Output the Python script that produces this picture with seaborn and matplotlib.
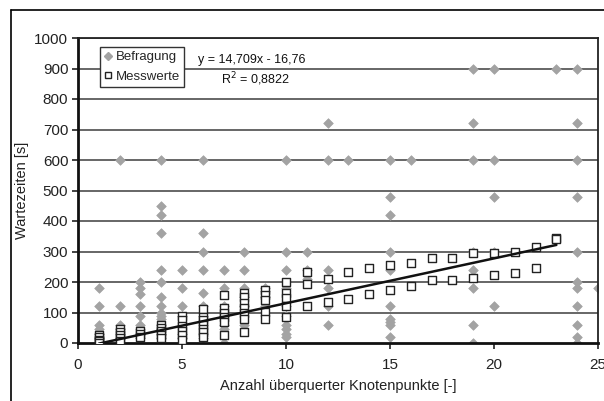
import numpy as np
import pandas as pd
import matplotlib
matplotlib.use("Agg")
import matplotlib.pyplot as plt
from matplotlib.lines import Line2D
import seaborn as sns

# ---- data ----
bef_x = ([1]*7 + [2]*7 + [3]*10 + [4]*16 + [5]*8 + [6]*10 + [7]*7 + [8]*6 + [9]*4 +
         [10]*10 + [11]*3 + [12]*6 + [13] + [15]*10 + [16] + [19]*8 + [20]*5 + [23] + [24]*11 + [25])
bef_y = ([180, 120, 60, 45, 30, 15, 0] +
         [600, 120, 60, 45, 30, 15, 0] +
         [200, 180, 160, 120, 90, 60, 45, 30, 15, 0] +
         [600, 450, 420, 360, 240, 200, 150, 120, 100, 90, 80, 60, 45, 30, 15, 0] +
         [240, 180, 120, 90, 60, 30, 15, 0] +
         [600, 360, 300, 240, 165, 120, 90, 60, 30, 15] +
         [240, 180, 120, 90, 60, 45, 0] +
         [300, 240, 180, 150, 120, 60] +
         [180, 170, 150, 120] +
         [600, 300, 240, 180, 120, 90, 60, 45, 30, 20] +
         [300, 240, 210] +
         [720, 600, 240, 180, 120, 60] +
         [600] +
         [600, 480, 420, 300, 240, 120, 80, 70, 60, 20] +
         [600] +
         [900, 720, 600, 300, 240, 180, 60, 0] +
         [900, 600, 480, 300, 120] +
         [900] +
         [900, 720, 600, 480, 300, 200, 180, 120, 60, 20, 0] +
         [180])

mess_x = ([1]*5 + [2]*5 + [3]*3 + [4]*5 + [5]*6 + [6]*7 + [7]*6 + [8]*7 + [9]*5 + [10]*5 +
          [11]*3 + [12]*2 + [13]*2 + [14]*2 + [15]*2 + [16]*2 + [17]*2 + [18]*2 + [19]*2 +
          [20]*2 + [21]*2 + [22]*2 + [23]*2)
mess_y = ([25, 20, 10, 5, 0] +
          [45, 35, 25, 15, 5] +
          [40, 30, 20] +
          [60, 50, 40, 25, 15] +
          [90, 75, 55, 40, 25, 10] +
          [110, 85, 75, 60, 45, 35, 20] +
          [157, 115, 100, 85, 70, 25] +
          [163, 150, 130, 115, 98, 80, 37] +
          [174, 158, 142, 103, 80] +
          [200, 165, 148, 120, 85] +
          [234, 192, 120] +
          [210, 135] +
          [232, 144] +
          [245, 160] +
          [256, 174] +
          [261, 188] +
          [278, 207] +
          [278, 207] +
          [294, 212] +
          [296, 223] +
          [298, 230] +
          [316, 245] +
          [345, 340])

trend_slope = 14.709
trend_intercept = -16.76
trend_x = [1, 23]
eq_text = "y = 14,709x - 16,76"
r2_text = "R$^2$ = 0,8822"

x_ticks = [0, 5, 10, 15, 20, 25]
y_ticks = [0, 100, 200, 300, 400, 500, 600, 700, 800, 900, 1000]
x_label = "Anzahl überquerter Knotenpunkte [-]"
y_label = "Wartezeiten [s]"

# ---- plotting ----
sns.set_theme(style="white")
plt.rcParams['font.family'] = ['Liberation Sans', 'DejaVu Sans']

W, H = 604, 401
fig = plt.figure(figsize=(W/100, H/100), dpi=100)
ax = fig.add_axes([78/W, 1 - 343/H, (598-78)/W, (343-38)/H])

df_b = pd.DataFrame({"x": bef_x, "y": bef_y})
df_m = pd.DataFrame({"x": mess_x, "y": mess_y})
trend_y = [trend_slope*v + trend_intercept for v in trend_x]
df_t = pd.DataFrame({"x": trend_x, "y": trend_y})

for yv in y_ticks[1:]:
    ax.axhline(yv, color="#5a5a5a", lw=1.3, zorder=0)

sns.scatterplot(data=df_b, x="x", y="y", ax=ax, marker="D", s=24, color="#a3a3a3",
                edgecolor="#a3a3a3", linewidth=0.5, zorder=2, legend=False)
sns.scatterplot(data=df_m, x="x", y="y", ax=ax, marker="s", s=30, facecolor="white",
                edgecolor="#222222", linewidth=1.0, zorder=3, legend=False)
sns.lineplot(data=df_t, x="x", y="y", ax=ax, color="#111111", lw=1.8, zorder=4)

ax.set_xlim(0, 25)
ax.set_ylim(0, 1000)
ax.set_xticks(x_ticks)
ax.set_yticks(y_ticks)
ax.tick_params(axis="both", labelsize=11, colors="#222222", length=4, width=1.2,
               direction="out", pad=3)
ax.tick_params(axis="x", pad=7)
ax.xaxis.set_ticks_position("bottom")
ax.yaxis.set_ticks_position("left")
for side in ["left", "bottom"]:
    ax.spines[side].set_color("#111111")
    ax.spines[side].set_linewidth(2.0)
for side in ["top", "right"]:
    ax.spines[side].set_color("#222222")
    ax.spines[side].set_linewidth(1.3)
ax.set_xlabel(x_label, fontsize=10.5, color="#222222", labelpad=5)
ax.set_ylabel(y_label, fontsize=10.5, color="#222222")
ax.yaxis.set_label_coords((29-78)/520, 0.5)

handles = [Line2D([], [], marker="D", ls="", color="#a3a3a3", markersize=4.5),
           Line2D([], [], marker="s", ls="", markerfacecolor="white",
                  markeredgecolor="#222222", markersize=5)]
leg = ax.legend(handles, ["Befragung", "Messwerte"], loc="upper left",
                bbox_to_anchor=((100-78)/520, 1 - (47-38)/305), fontsize=9.5,
                frameon=True, fancybox=False, framealpha=1, edgecolor="#333333",
                handlelength=0.6, handletextpad=0.3, borderpad=0.3, labelspacing=0.55,
                borderaxespad=0)
leg.get_frame().set_linewidth(1.0)

fig.text(198/W, 1 - 60/H, eq_text, fontsize=9, color="#111111", va="center", ha="left")
fig.text(221/W, 1 - 79/H, r2_text, fontsize=9, color="#111111", va="center", ha="left")

# outer frame
fig.add_artist(Line2D([11/W, 11/W], [0, 1 - 10/H], transform=fig.transFigure,
                      color="black", lw=1.2))
fig.add_artist(Line2D([11/W, 1], [1 - 10/H, 1 - 10/H], transform=fig.transFigure,
                      color="black", lw=1.2))

fig.savefig("out.png", dpi=100)
